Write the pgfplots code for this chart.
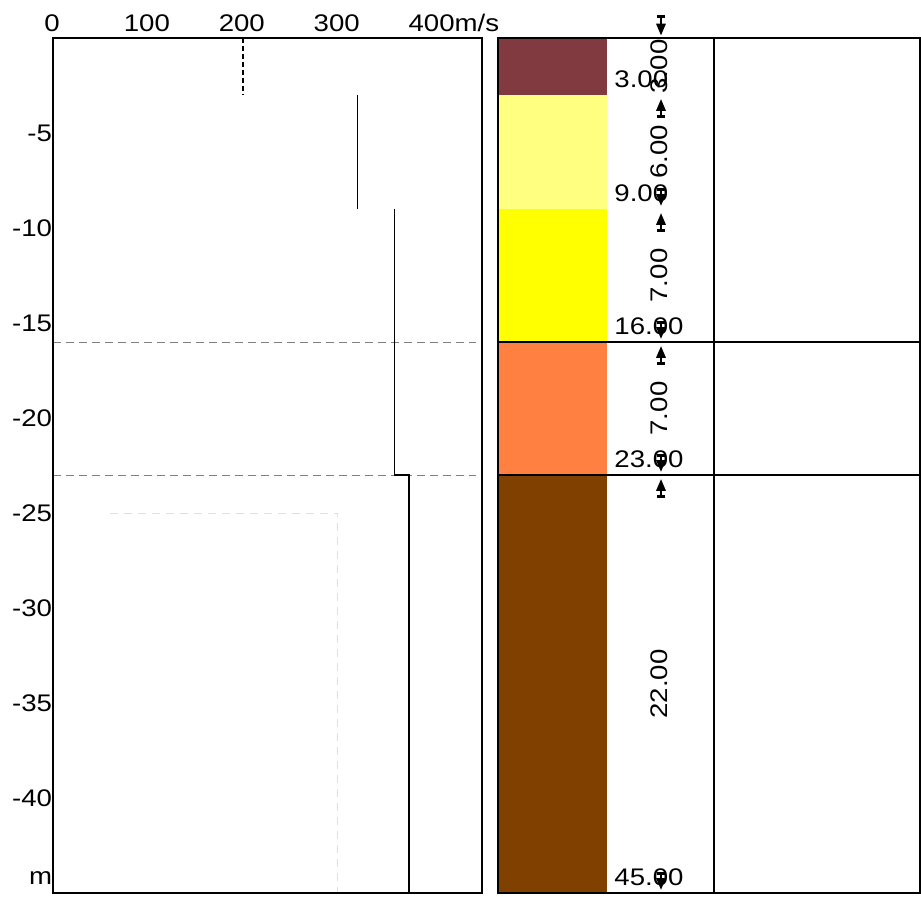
\documentclass[border=0pt]{standalone}
\usepackage{fontspec}
\setmainfont{Liberation Sans}[FakeStretch=1.15]
\usepackage{pgfplots}
\pgfplotsset{compat=1.18}
\usetikzlibrary{arrows.meta}
\definecolor{lay1}{RGB}{128,58,64}
\definecolor{lay2}{RGB}{255,255,128}
\definecolor{lay3}{RGB}{255,255,0}
\definecolor{lay4}{RGB}{255,128,64}
\definecolor{lay5}{RGB}{128,64,0}
\newcommand\fs{\fontsize{12}{13}\selectfont}
\tikzset{dimarr/.style={{Rectangle[width=4pt,length=1.5pt]}-{Triangle[width=4.5pt,length=6pt]}, line width=1.4pt, black}}
\begin{document}
\begin{tikzpicture}[x=1pt,y=1pt]
\useasboundingbox (0,0) rectangle (460.5,448);
\begin{axis}[
  at={(26.5pt,1.5pt)}, anchor=south west,
  scale only axis, width=214.5pt, height=427.5pt,
  xmin=0, xmax=452, ymin=-45, ymax=0,
  axis line style={line width=0.6pt},
  xtick={0,100,200,300,400},
  xticklabels={0,100,200,300,400\rlap{m/s}},
  xticklabel pos=upper,
  ytick={-5,-10,-15,-20,-25,-30,-35,-40},
  yticklabels={-5,-10,-15,-20,-25,-30,-35,-40},
  major tick length=0pt,
  tick label style={font=\fs},
  xticklabel style={anchor=south, inner sep=0pt, yshift=3pt, xshift=-0.5pt},
  yticklabel style={anchor=east, inner sep=0pt, xshift=-0.3pt},
  clip=false, axis on top,
]
\addplot[black!12, dash pattern=on 4pt off 3pt, line width=0.5pt] coordinates {(60,-25) (300,-25) (300,-45)};
\addplot[gray, dash pattern=on 4pt off 2.5pt, line width=0.5pt] coordinates {(0,-16) (446,-16)};
\addplot[gray, dash pattern=on 4pt off 2.5pt, line width=0.5pt] coordinates {(0,-23) (446,-23)};
\addplot[black, dash pattern=on 2.5pt off 1.5pt, line width=0.7pt] coordinates {(200,0) (200,-3)};
\addplot[black, line width=0.8pt] coordinates {(321,-3) (321,-9)};
\addplot[black, line width=0.8pt] coordinates {(360,-9) (360,-23) (375,-23) (375,-45)};
\node[anchor=south east, inner sep=0pt, font=\fs] at (rel axis cs:0,0) [yshift=4pt, xshift=-0.3pt] {m};
\end{axis}
\begin{axis}[
  at={(249pt,1.5pt)}, anchor=south west,
  scale only axis, width=211pt, height=427.5pt,
  xmin=0, xmax=422, ymin=-45, ymax=0,
  axis line style={line width=0.6pt},
  xtick=\empty, ytick=\empty,
  clip=false, axis on top,
]
\addplot[fill=lay1, draw=none] coordinates {(0,0) (109,0) (109,-3) (0,-3)} -- cycle;
\addplot[fill=lay2, draw=none] coordinates {(0,-3) (109,-3) (109,-9) (0,-9)} -- cycle;
\addplot[fill=lay3, draw=none] coordinates {(0,-9) (109,-9) (109,-16) (0,-16)} -- cycle;
\addplot[fill=lay4, draw=none] coordinates {(0,-16) (109,-16) (109,-23) (0,-23)} -- cycle;
\addplot[fill=lay5, draw=none] coordinates {(0,-23) (109,-23) (109,-45) (0,-45)} -- cycle;
\addplot[black, line width=0.6pt] coordinates {(0,-16) (422,-16)};
\addplot[black, line width=0.6pt] coordinates {(0,-23) (422,-23)};
\addplot[black, line width=0.6pt] coordinates {(216,0) (216,-45)};
% layer depth labels
\node[anchor=south west, inner sep=0pt, font=\fs] at (axis cs:116,-3) [yshift=3.5pt] {3.00};
\node[anchor=south west, inner sep=0pt, font=\fs] at (axis cs:116,-9) [yshift=3.5pt] {9.00};
\node[anchor=south west, inner sep=0pt, font=\fs] at (axis cs:116,-16) [yshift=3.5pt] {16.00};
\node[anchor=south west, inner sep=0pt, font=\fs] at (axis cs:116,-23) [yshift=3.5pt] {23.00};
\node[anchor=south west, inner sep=0pt, font=\fs] at (axis cs:116,-45) [yshift=3.5pt] {45.00};
% thickness labels
\node[rotate=90, inner sep=0pt, font=\fs] at (axis cs:161,-1.5) {3.00};
\node[rotate=90, inner sep=0pt, font=\fs] at (axis cs:161,-6) {6.00};
\node[rotate=90, inner sep=0pt, font=\fs] at (axis cs:161,-12.5) {7.00};
\node[rotate=90, inner sep=0pt, font=\fs] at (axis cs:161,-19.5) {7.00};
\node[rotate=90, inner sep=0pt, font=\fs] at (axis cs:161,-34) {22.00};
% dimension arrows
\addplot[dimarr] coordinates {(163,1.2) (163,0.12)};
\addplot[dimarr] coordinates {(163,-4.2) (163,-3.2)};
\addplot[dimarr] coordinates {(163,-7.9) (163,-8.85)};
\addplot[dimarr] coordinates {(163,-10.2) (163,-9.2)};
\addplot[dimarr] coordinates {(163,-14.9) (163,-15.85)};
\addplot[dimarr] coordinates {(163,-17.2) (163,-16.2)};
\addplot[dimarr] coordinates {(163,-21.9) (163,-22.85)};
\addplot[dimarr] coordinates {(163,-24.2) (163,-23.2)};
\addplot[dimarr] coordinates {(163,-43.9) (163,-44.85)};
\end{axis}
\end{tikzpicture}
\end{document}
